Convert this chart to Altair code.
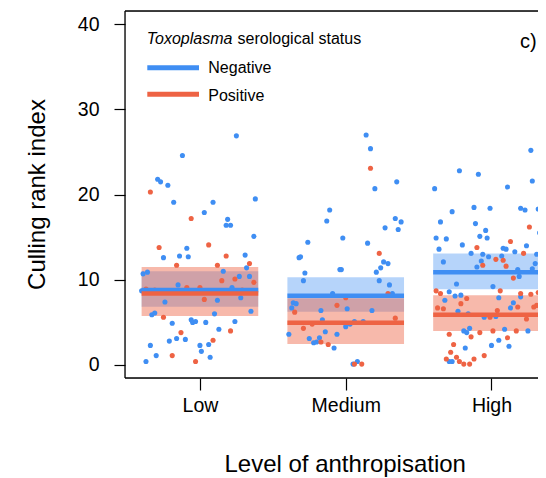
import altair as alt
import pandas as pd

levels = ["Low", "Medium", "High"]
statuses = ["Negative", "Positive"]
colors = ["#3f8ef3", "#ee6344"]

# jittered points: (jitter offset in category units, culling rank index)
low_neg = [(0.25, 26.9), (-0.12, 24.6), (-0.29, 21.8), (-0.27, 21.5), (-0.22, 21.1), (-0.18, 19.1), (0.09, 19.1),
           (0.03, 17.9), (0.19, 17.1), (0.18, 16.4), (0.21, 16.4), (0.38, 19.5), (0.37, 15.1), (-0.09, 13.7),
           (-0.25, 12.6), (-0.14, 12.8), (-0.08, 12.7), (0.31, 12.9), (0.32, 11.4), (-0.39, 10.7), (-0.36, 10.9),
           (0.16, 11.0), (0.27, 10.4), (0.34, 10.4), (-0.15, 9.4), (0.22, 9.1), (-0.40, 8.7), (-0.24, 7.4),
           (0.12, 7.6), (0.28, 7.9), (0.35, 6.3), (0.10, 6.0), (-0.33, 5.9), (-0.31, 6.1), (-0.19, 4.9),
           (-0.06, 5.3), (-0.05, 5.0), (-0.03, 5.1), (0.04, 5.0), (0.24, 5.1), (0.13, 4.2), (-0.16, 3.1),
           (-0.21, 2.8), (-0.10, 3.0), (-0.34, 2.3), (0.00, 2.3), (0.06, 2.4), (0.01, 1.6), (-0.30, 1.1),
           (0.07, 0.9), (-0.37, 0.4)]
low_pos = [(-0.34, 20.3), (-0.06, 17.2), (-0.28, 13.8), (0.06, 14.1), (0.18, 12.8), (-0.16, 11.7), (0.12, 11.7),
           (0.34, 11.9), (0.15, 9.9), (0.24, 10.1), (0.37, 9.7), (-0.09, 9.1), (0.00, 9.1), (0.29, 8.8),
           (-0.37, 8.9), (-0.31, 8.8), (0.03, 7.7), (-0.25, 5.6), (0.21, 4.0), (-0.13, 3.8), (0.09, 2.9),
           (-0.19, 1.1), (-0.03, 0.4)]
med_neg = [(0.14, 27.0), (0.17, 25.4), (0.35, 21.5), (0.20, 20.7), (-0.11, 18.2), (-0.13, 16.9), (0.34, 17.2),
           (0.27, 16.1), (0.36, 15.9), (-0.02, 14.9), (0.15, 14.3), (-0.26, 14.4), (-0.32, 12.6), (-0.31, 12.7),
           (0.26, 12.1), (0.29, 11.9), (0.24, 11.4), (-0.04, 11.2), (-0.03, 11.2), (-0.28, 10.8), (0.21, 10.9),
           (-0.29, 9.9), (0.23, 9.9), (0.30, 9.4), (0.32, 8.4), (-0.09, 8.4), (-0.36, 7.3), (-0.34, 7.2),
           (-0.37, 6.7), (0.01, 6.6), (-0.17, 6.4), (0.18, 6.4), (-0.16, 5.3), (0.06, 5.1), (0.12, 5.1),
           (0.00, 4.5), (0.03, 4.8), (-0.39, 3.6), (-0.14, 3.9), (-0.06, 3.6), (-0.25, 3.1), (-0.18, 3.2),
           (-0.22, 2.6), (-0.20, 2.7), (-0.08, 2.0), (0.08, 0.4), (0.05, 0.1), (0.38, 16.8)]
med_pos = [(0.17, 23.1), (0.23, 13.1), (0.00, 7.9), (0.29, 8.4), (-0.06, 7.0), (-0.35, 6.2), (0.34, 5.5),
           (-0.23, 4.8), (-0.29, 4.3), (-0.17, 2.7), (-0.12, 2.4), (0.06, 0.1), (0.11, 0.1)]
high_neg = [(0.27, 25.2), (-0.22, 22.8), (-0.09, 22.4), (0.28, 21.6), (-0.39, 20.7), (0.11, 20.9), (-0.27, 18.0),
            (-0.12, 18.5), (-0.01, 18.4), (0.20, 18.4), (0.23, 18.2), (0.32, 18.3), (0.36, 18.0), (-0.35, 16.8),
            (-0.11, 16.6), (-0.04, 15.8), (0.33, 15.5), (-0.38, 14.9), (-0.31, 14.8), (-0.08, 15.1), (-0.03, 14.9),
            (0.35, 15.0), (0.35, 14.6), (-0.20, 14.1), (0.08, 13.7), (0.10, 13.6), (0.24, 14.0), (-0.36, 13.6),
            (-0.14, 13.1), (-0.06, 13.0), (0.16, 13.3), (0.31, 13.0), (-0.02, 12.7), (0.07, 12.8), (-0.07, 12.2),
            (-0.10, 11.5), (0.30, 11.9), (-0.33, 12.1), (0.18, 11.2), (0.28, 11.3), (0.19, 10.4), (-0.24, 9.5),
            (0.01, 9.2), (-0.29, 8.6), (-0.25, 8.1), (-0.21, 8.2), (0.05, 7.9), (0.20, 8.0), (-0.32, 7.6),
            (0.15, 7.3), (-0.23, 6.3), (0.13, 6.7), (-0.16, 6.0), (-0.05, 5.6), (0.03, 5.7), (-0.19, 4.0),
            (-0.17, 3.8), (-0.15, 4.3), (0.09, 4.2), (0.25, 4.0), (0.05, 2.9), (0.00, 2.3), (-0.18, 2.0),
            (0.12, 2.2), (-0.29, 0.4), (-0.27, 0.4)]
high_pos = [(0.26, 16.2), (0.13, 14.5), (-0.10, 13.8), (0.22, 13.1), (0.03, 12.4), (0.08, 12.3), (-0.06, 11.7),
            (0.10, 11.6), (0.36, 11.2), (0.15, 10.2), (-0.38, 8.7), (-0.35, 8.4), (0.06, 8.7), (-0.17, 7.8),
            (0.20, 8.4), (0.27, 8.3), (0.32, 8.5), (0.35, 8.6), (-0.21, 7.2), (-0.37, 6.7), (-0.33, 6.6),
            (0.04, 6.4), (0.18, 6.8), (0.29, 6.8), (0.31, 7.0), (-0.01, 5.6), (0.24, 5.4), (-0.08, 3.8),
            (0.01, 4.0), (0.17, 4.0), (-0.29, 3.6), (-0.14, 3.3), (-0.26, 2.4), (0.11, 3.2), (-0.28, 1.5),
            (-0.05, 1.1), (-0.31, 0.7), (-0.24, 0.9), (-0.22, 0.4), (-0.19, 0.1), (-0.15, 0.1), (-0.12, 0.7)]

# model estimates with confidence intervals (Low, Medium, High)
mean_neg = [8.8, 8.14, 10.9]
lo_neg = [6.85, 6.26, 8.9]
hi_neg = [11.0, 10.3, 13.1]
mean_pos = [8.4, 4.97, 5.9]
lo_pos = [5.75, 2.47, 4.0]
hi_pos = [11.5, 7.83, 8.2]

groups = {("Low", "Negative"): low_neg, ("Low", "Positive"): low_pos,
          ("Medium", "Negative"): med_neg, ("Medium", "Positive"): med_pos,
          ("High", "Negative"): high_neg, ("High", "Positive"): high_pos}

rows = []
for (lev, st), pts in groups.items():
    idx = levels.index(lev) + 1
    for j, v in pts:
        rows.append({"level": lev, "status": st, "xpos": idx + j, "value": v})
points = pd.DataFrame(rows)
points["order"] = points["status"].map({"Negative": 0, "Positive": 1})
points = points.sort_values("order", kind="stable")

HALF = 0.4
summ_rows = []
for st, m, lo, hi in [("Negative", mean_neg, lo_neg, hi_neg), ("Positive", mean_pos, lo_pos, hi_pos)]:
    for i, lev in enumerate(levels):
        summ_rows.append({"level": lev, "status": st, "x1": i + 1 - HALF, "x2": i + 1 + HALF,
                          "mean": m[i], "lo": lo[i], "hi": hi[i]})
summ = pd.DataFrame(summ_rows)

FONT = "Liberation Sans"
W, H = 413, 367
xscale = alt.Scale(domain=[0.486, 3.319], nice=False, zero=False)
yscale = alt.Scale(domain=[-1.53, 41.56], nice=False, zero=False)
cscale = alt.Scale(domain=statuses, range=colors)
col = alt.Color("status:N", scale=cscale, legend=None)

label_expr = " : ".join([f"datum.value == {i+1} ? '{l}'" for i, l in enumerate(levels[:-1])]) + f" : '{levels[-1]}'"

xaxis = alt.Axis(values=[1, 2, 3], labelExpr=label_expr, title="Level of anthropisation", grid=False,
                 domain=False, tickSize=12, tickWidth=1.2, tickColor="black", labelFontSize=19.5,
                 labelColor="black", labelBaseline="alphabetic", labelPadding=21.7, labelFont=FONT,
                 titleFont=FONT, titleFontSize=24, titleFontWeight="normal", titleColor="black",
                 titleX=219.7, titleY=93.7, titleBaseline="alphabetic", titleAlign="center")
yaxis = alt.Axis(values=[0, 10, 20, 30, 40], title="Culling rank index", grid=False, domain=False,
                 tickSize=11, tickWidth=1.2, tickColor="black", labelFontSize=19.5, labelColor="black",
                 labelPadding=15, labelFont=FONT, titleFont=FONT, titleFontSize=24, titleFontWeight="normal",
                 titleColor="black", titleX=-81, titleY=183, titleBaseline="alphabetic", titleAlign="center",
                 titleAngle=270)

base_s = alt.Chart(summ)
band_neg = base_s.transform_filter(alt.datum.status == "Negative").mark_rect(opacity=0.38, clip=True).encode(
    x=alt.X("x1:Q", scale=xscale, axis=xaxis), x2="x2:Q",
    y=alt.Y("lo:Q", scale=yscale, axis=yaxis), y2="hi:Q", color=col)
band_pos = base_s.transform_filter(alt.datum.status == "Positive").mark_rect(opacity=0.45, clip=True).encode(
    x="x1:Q", x2="x2:Q", y="lo:Q", y2="hi:Q", color=col)

pts = alt.Chart(points).mark_circle(size=26, opacity=1, clip=True).encode(
    x="xpos:Q", y="value:Q", color=col, order="order:Q")

line_neg = base_s.transform_filter(alt.datum.status == "Negative").mark_rule(strokeWidth=4.5, clip=True).encode(
    x="x1:Q", x2="x2:Q", y="mean:Q", color=col)
line_pos = base_s.transform_filter(alt.datum.status == "Positive").mark_rule(strokeWidth=4.5, clip=True).encode(
    x="x1:Q", x2="x2:Q", y="mean:Q", color=col)

# plot frame (top, left, bottom); the right side lies beyond the picture in the reference
frame_df = pd.DataFrame({"k": [0]})
frame = [
    alt.Chart(frame_df).mark_rule(color="black", strokeWidth=1.3).encode(
        x=alt.value(0), x2=alt.value(W), y=alt.value(0)),
    alt.Chart(frame_df).mark_rule(color="black", strokeWidth=1.3).encode(
        x=alt.value(0), x2=alt.value(W), y=alt.value(H)),
    alt.Chart(frame_df).mark_rule(color="black", strokeWidth=1.3).encode(
        x=alt.value(0), y=alt.value(0), y2=alt.value(H)),
]

# legend drawn inside the plot
legend = [
    alt.Chart(pd.DataFrame({"t": ["Toxoplasma"]})).mark_text(
        font=FONT, fontSize=16, fontStyle="italic", align="left", baseline="alphabetic", color="black").encode(
        text="t:N", x=alt.value(21.7), y=alt.value(33.3)),
    alt.Chart(pd.DataFrame({"t": ["serological status"]})).mark_text(
        font=FONT, fontSize=16, align="left", baseline="alphabetic", color="black").encode(
        text="t:N", x=alt.value(112.6), y=alt.value(33.3)),
]
for k, st in enumerate(statuses):
    dfk = pd.DataFrame({"status": [st]})
    legend.append(alt.Chart(dfk).mark_rule(strokeWidth=5, color=colors[k]).encode(
        x=alt.value(22.3), x2=alt.value(74), y=alt.value(56.7 + 26.6 * k)))
    legend.append(alt.Chart(dfk).mark_text(font=FONT, fontSize=16, align="left", baseline="alphabetic",
                                           color="black").encode(
        text="status:N", x=alt.value(83.3), y=alt.value(62.3 + 27.4 * k)))
panel = alt.Chart(pd.DataFrame({"t": ["c)"]})).mark_text(
    font=FONT, fontSize=20, align="left", baseline="alphabetic", color="black").encode(
    text="t:N", x=alt.value(395), y=alt.value(36.7))

chart = alt.layer(band_neg, band_pos, pts, line_neg, line_pos, *frame, *legend, panel).properties(
    width=W, height=H,
    autosize=alt.AutoSizeParams(type="none"),
    padding={"left": 117, "top": 3, "right": 0, "bottom": 100},
    background="white",
).configure_view(stroke=None).configure(font=FONT)

chart.save("out.html", embed_options={"renderer": "svg", "actions": False})
